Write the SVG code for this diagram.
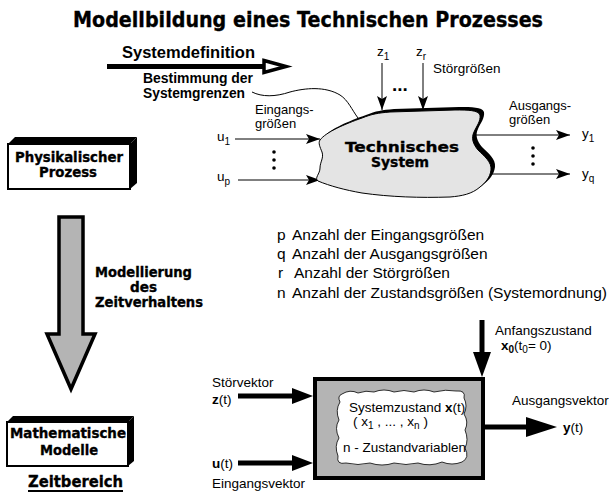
<svg xmlns="http://www.w3.org/2000/svg" width="610" height="493" viewBox="0 0 610 493">
<style>
.lbl{font-family:"Liberation Sans",Arial,sans-serif;font-size:13.5px;fill:#000}
.sm{font-size:13px}
.lst{font-family:"Liberation Sans",Arial,sans-serif;font-size:15.5px;fill:#000}
.hb{font-family:"Liberation Sans",Arial,sans-serif;font-weight:bold;fill:#000}
.hv{font-family:"DejaVu Sans",sans-serif;font-weight:bold;fill:#000;stroke:#000;stroke-width:0.35}
.thin{stroke:#000;stroke-width:1;fill:none}
.thick{stroke:#000;stroke-width:5;fill:none}
.blk{fill:#000}
.sub{font-size:10px}
</style>
<defs>
<marker id="ah" viewBox="0 0 14 10" refX="14" refY="5" markerWidth="14" markerHeight="10" markerUnits="userSpaceOnUse" orient="auto">
<path d="M0,0 L14,5 L0,10 L3,5 z" fill="#000"/>
</marker>
</defs>
<rect width="610" height="493" fill="#fff"/>

<text class="hv" x="73" y="27" font-size="20.5" textLength="470" lengthAdjust="spacingAndGlyphs">Modellbildung eines Technischen Prozesses</text>

<g id="systemdefinition">
<line x1="107" y1="66.5" x2="264" y2="66.5" class="thick"/>
<polygon points="264,60.5 286,66.5 264,72.5" fill="#fff" stroke="#000" stroke-width="3.5" stroke-linejoin="miter"/>
<text class="hb" x="122" y="58" font-size="16.5" textLength="133" lengthAdjust="spacingAndGlyphs">Systemdefinition</text>
<text class="hb" x="143" y="83" font-size="14" textLength="110" lengthAdjust="spacingAndGlyphs">Bestimmung der</text>
<text class="hb" x="143" y="98" font-size="14" textLength="102" lengthAdjust="spacingAndGlyphs">Systemgrenzen</text>
</g>

<g id="connectors">
<path class="thin" d="M252,92 C262,97 275,97 290,92 C305,88 325,86 340,95 C348,100 352,110 358,118"/>
<line class="thin" x1="382" y1="63" x2="382" y2="110" marker-end="url(#ah)"/>
<line class="thin" x1="423" y1="63" x2="423" y2="110" marker-end="url(#ah)"/>
<line class="thin" x1="235" y1="139" x2="320" y2="139" marker-end="url(#ah)"/>
<line class="thin" x1="238" y1="180" x2="320" y2="180" marker-end="url(#ah)"/>
<line class="thin" x1="476" y1="135" x2="570" y2="135" marker-end="url(#ah)"/>
<line class="thin" x1="490" y1="174" x2="570" y2="174" marker-end="url(#ah)"/>
<line class="thick" x1="238" y1="396" x2="296" y2="396"/>
<polygon class="blk" points="292,388 313,396 292,404"/>
<line class="thick" x1="238" y1="463" x2="296" y2="463"/>
<polygon class="blk" points="292,455 313,463 292,471"/>
<line class="thick" x1="485" y1="427" x2="530" y2="427"/>
<polygon class="blk" points="526,417 557,427 526,437"/>
<line class="thick" x1="482" y1="320" x2="482" y2="356"/>
<polygon class="blk" points="473,352 482,377 491,352"/>
</g>

<g id="technisches-system">
<path transform="translate(4,-3)" class="blk" d="M320,140 C326,132 345,124 362,118 C372,114 378,113 390,112 L455,110 C468,110 478,110 480,115 C481,121 476,127 474,132 C471,138 473,144 478,150 C484,156 492,162 491,170 C490,178 485,183 480,187 C472,194 462,196 450,197 C420,198 390,197 362,193 C345,190 330,186 318,181 C314,178 320,174 320,168 C320,162 324,158 322,152 C320,147 318,143 320,140 Z"/>
<path fill="#e4e4e4" stroke="#000" stroke-width="1" d="M320,140 C326,132 345,124 362,118 C372,114 378,113 390,112 L455,110 C468,110 478,110 480,115 C481,121 476,127 474,132 C471,138 473,144 478,150 C484,156 492,162 491,170 C490,178 485,183 480,187 C472,194 462,196 450,197 C420,198 390,197 362,193 C345,190 330,186 318,181 C314,178 320,174 320,168 C320,162 324,158 322,152 C320,147 318,143 320,140 Z"/>
<text class="hv" x="402" y="152" font-size="14.5" text-anchor="middle" textLength="114" lengthAdjust="spacingAndGlyphs">Technisches</text>
<text class="hv" x="400" y="167" font-size="14.5" text-anchor="middle" textLength="58" lengthAdjust="spacingAndGlyphs">System</text>
</g>

<g id="stoergroessen">
<text class="lbl" x="377" y="56">z<tspan class="sub" dy="4">1</tspan></text>
<text class="lbl" x="416" y="56">z<tspan class="sub" dy="4">r</tspan></text>
<text class="hb" x="392" y="91" font-size="19">...</text>
<text class="lbl" x="433" y="73">Störgrößen</text>
</g>

<g id="eingangsgroessen">
<text class="lbl sm" x="255" y="114">Eingangs-</text>
<text class="lbl sm" x="255" y="128">größen</text>
<text class="lbl" x="217" y="141">u<tspan class="sub" dy="4">1</tspan></text>
<text class="lbl" x="217" y="181">u<tspan class="sub" dy="4">p</tspan></text>
<circle cx="274" cy="152" r="1.8" class="blk"/>
<circle cx="274" cy="160" r="1.8" class="blk"/>
<circle cx="274" cy="168" r="1.8" class="blk"/>
</g>

<g id="ausgangsgroessen">
<text class="lbl sm" x="509" y="110">Ausgangs-</text>
<text class="lbl sm" x="509" y="124">größen</text>
<text class="lbl" x="582" y="138">y<tspan class="sub" dy="4">1</tspan></text>
<text class="lbl" x="582" y="178">y<tspan class="sub" dy="4">q</tspan></text>
<circle cx="533" cy="148" r="1.8" class="blk"/>
<circle cx="533" cy="156" r="1.8" class="blk"/>
<circle cx="533" cy="164" r="1.8" class="blk"/>
</g>

<g id="physikalischer-prozess">
<polygon class="blk" points="8,144 15,137 137,137 130,144"/>
<polygon class="blk" points="130,144 137,137 137,183 130,189"/>
<rect x="8" y="144" width="122" height="45" fill="#fff" stroke="#000" stroke-width="2"/>
<text class="hv" x="69" y="162" font-size="13.5" text-anchor="middle" textLength="108" lengthAdjust="spacingAndGlyphs">Physikalischer</text>
<text class="hv" x="68" y="177" font-size="13.5" text-anchor="middle" textLength="58" lengthAdjust="spacingAndGlyphs">Prozess</text>
</g>

<g id="modellierung">
<polygon points="59,217 83,217 83,334 95,334 71,389 47,334 59,334" fill="#b4b4b4" stroke="#000" stroke-width="3.5" stroke-linejoin="miter"/>
<text class="hv" x="95" y="277" font-size="13.5" textLength="97" lengthAdjust="spacingAndGlyphs">Modellierung</text>
<text class="hv" x="130" y="292" font-size="13.5" textLength="27" lengthAdjust="spacingAndGlyphs">des</text>
<text class="hv" x="95" y="307" font-size="13.5" textLength="108" lengthAdjust="spacingAndGlyphs">Zeitverhaltens</text>
</g>

<g id="legende">
<text class="lst" x="277" y="240">p</text>
<text class="lst" x="292" y="240">Anzahl der Eingangsgrößen</text>
<text class="lst" x="277" y="259">q</text>
<text class="lst" x="292" y="259">Anzahl der Ausgangsgrößen</text>
<text class="lst" x="278" y="278">r</text>
<text class="lst" x="294" y="278">Anzahl der Störgrößen</text>
<text class="lst" x="277" y="298">n</text>
<text class="lst" x="292" y="298" textLength="315" lengthAdjust="spacingAndGlyphs">Anzahl der Zustandsgrößen (Systemordnung)</text>
</g>

<g id="mathematische-modelle">
<polygon class="blk" points="7,422 13,416 134,416 128,422"/>
<polygon class="blk" points="128,422 134,416 134,461 128,466"/>
<rect x="7" y="422" width="121" height="44" fill="#fff" stroke="#000" stroke-width="2"/>
<text class="hv" x="68" y="438" font-size="13.5" text-anchor="middle" textLength="116" lengthAdjust="spacingAndGlyphs">Mathematische</text>
<text class="hv" x="69" y="455" font-size="13.5" text-anchor="middle" textLength="58" lengthAdjust="spacingAndGlyphs">Modelle</text>
<text class="hv" x="28" y="487" font-size="16" textLength="95" lengthAdjust="spacingAndGlyphs">Zeitbereich</text>
<line x1="28" y1="491" x2="123" y2="491" stroke="#000" stroke-width="1.8"/>
</g>

<g id="zustandsmodell">
<rect x="315" y="379" width="168" height="99" fill="#b4b4b4" stroke="#000" stroke-width="4"/>
<path fill="#fff" stroke="#000" stroke-width="0.8" d="M342,394 Q350,389 358,393 Q366,390 374,392 Q384,388 394,392 Q404,389 414,392 Q424,388 434,392 Q446,389 456,391 Q466,390 464,398 Q468,406 464,414 Q469,422 465,430 Q469,440 465,448 Q470,458 462,462 Q452,466 442,462 Q430,467 418,463 Q406,466 394,463 Q382,467 370,463 Q358,466 346,463 Q336,465 338,456 Q334,446 339,438 Q334,428 339,420 Q335,410 340,402 Q337,396 342,394 Z"/>
<text class="lbl" x="349" y="412" font-size="13">Systemzustand <tspan font-weight="bold">x</tspan>(t)</text>
<text class="lbl" x="353" y="426">( x<tspan class="sub" dy="3">1</tspan><tspan dy="-3"> , ... , x</tspan><tspan class="sub" dy="3">n</tspan><tspan dy="-3"> )</tspan></text>
<text class="lbl" x="343" y="452" font-size="13">n - Zustandvariablen</text>
</g>

<g id="vektoren">
<text class="lbl" x="212" y="387">Störvektor</text>
<text class="lbl" x="212" y="404"><tspan font-weight="bold">z</tspan>(t)</text>
<text class="lbl" x="212" y="468"><tspan font-weight="bold">u</tspan>(t)</text>
<text class="lbl" x="212" y="488">Eingangsvektor</text>
<text class="lbl" x="512" y="405">Ausgangsvektor</text>
<text class="lbl" x="563" y="432"><tspan font-weight="bold">y</tspan>(t)</text>
<text class="lbl" x="495" y="335">Anfangszustand</text>
<text class="lbl" x="501" y="350"><tspan font-weight="bold">x</tspan><tspan font-weight="bold" class="sub" dy="3">0</tspan><tspan dy="-3">(t</tspan><tspan class="sub" dy="3">0</tspan><tspan dy="-3">= 0)</tspan></text>
</g>
</svg>
